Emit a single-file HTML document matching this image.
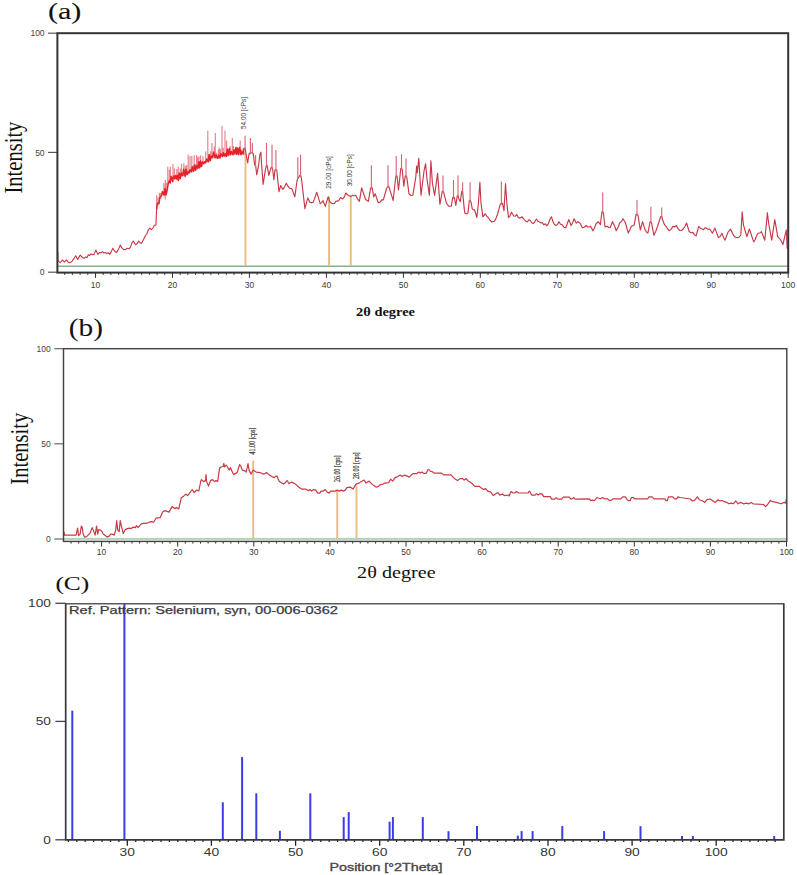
<!DOCTYPE html>
<html><head><meta charset="utf-8"><title>XRD patterns</title>
<style>html,body{margin:0;padding:0;background:#fff;}svg{display:block;}</style></head>
<body><svg width="797" height="875" viewBox="0 0 797 875">
<rect width="797" height="875" fill="#fff"/>
<text transform="translate(47.9,18.6) scale(1.06,0.84)" font-family="Liberation Serif" font-size="28.5" fill="#111" stroke="#111" stroke-width="0.12">(a)</text>
<text transform="translate(22.2,193.6) rotate(-90)" font-family="Liberation Serif" font-size="24.5" textLength="72" lengthAdjust="spacingAndGlyphs" fill="#111">Intensity</text>
<line x1="48" y1="33.2" x2="57" y2="33.2" stroke="#555" stroke-width="1.2"/>
<text transform="translate(44.6,36.3) scale(1.0,1)" font-family="Liberation Sans" font-size="8.5" fill="#444" text-anchor="end" >100</text>
<line x1="48" y1="152.4" x2="57" y2="152.4" stroke="#555" stroke-width="1.2"/>
<text transform="translate(44.6,155.5) scale(1.0,1)" font-family="Liberation Sans" font-size="8.5" fill="#444" text-anchor="end" >50</text>
<line x1="48" y1="272.2" x2="57" y2="272.2" stroke="#555" stroke-width="1.2"/>
<text transform="translate(44.6,275.3) scale(1.0,1)" font-family="Liberation Sans" font-size="8.5" fill="#444" text-anchor="end" >0</text>
<line x1="64.7" y1="272.7" x2="64.7" y2="274.9" stroke="#333" stroke-width="1"/>
<line x1="72.4" y1="272.7" x2="72.4" y2="274.9" stroke="#333" stroke-width="1"/>
<line x1="80.1" y1="272.7" x2="80.1" y2="274.9" stroke="#333" stroke-width="1"/>
<line x1="87.8" y1="272.7" x2="87.8" y2="274.9" stroke="#333" stroke-width="1"/>
<line x1="103.2" y1="272.7" x2="103.2" y2="274.9" stroke="#333" stroke-width="1"/>
<line x1="110.9" y1="272.7" x2="110.9" y2="274.9" stroke="#333" stroke-width="1"/>
<line x1="118.6" y1="272.7" x2="118.6" y2="274.9" stroke="#333" stroke-width="1"/>
<line x1="126.3" y1="272.7" x2="126.3" y2="274.9" stroke="#333" stroke-width="1"/>
<line x1="134.0" y1="272.7" x2="134.0" y2="274.9" stroke="#333" stroke-width="1"/>
<line x1="141.7" y1="272.7" x2="141.7" y2="274.9" stroke="#333" stroke-width="1"/>
<line x1="149.4" y1="272.7" x2="149.4" y2="274.9" stroke="#333" stroke-width="1"/>
<line x1="157.1" y1="272.7" x2="157.1" y2="274.9" stroke="#333" stroke-width="1"/>
<line x1="164.8" y1="272.7" x2="164.8" y2="274.9" stroke="#333" stroke-width="1"/>
<line x1="180.2" y1="272.7" x2="180.2" y2="274.9" stroke="#333" stroke-width="1"/>
<line x1="187.8" y1="272.7" x2="187.8" y2="274.9" stroke="#333" stroke-width="1"/>
<line x1="195.5" y1="272.7" x2="195.5" y2="274.9" stroke="#333" stroke-width="1"/>
<line x1="203.2" y1="272.7" x2="203.2" y2="274.9" stroke="#333" stroke-width="1"/>
<line x1="210.9" y1="272.7" x2="210.9" y2="274.9" stroke="#333" stroke-width="1"/>
<line x1="218.6" y1="272.7" x2="218.6" y2="274.9" stroke="#333" stroke-width="1"/>
<line x1="226.3" y1="272.7" x2="226.3" y2="274.9" stroke="#333" stroke-width="1"/>
<line x1="234.0" y1="272.7" x2="234.0" y2="274.9" stroke="#333" stroke-width="1"/>
<line x1="241.7" y1="272.7" x2="241.7" y2="274.9" stroke="#333" stroke-width="1"/>
<line x1="257.1" y1="272.7" x2="257.1" y2="274.9" stroke="#333" stroke-width="1"/>
<line x1="264.8" y1="272.7" x2="264.8" y2="274.9" stroke="#333" stroke-width="1"/>
<line x1="272.5" y1="272.7" x2="272.5" y2="274.9" stroke="#333" stroke-width="1"/>
<line x1="280.2" y1="272.7" x2="280.2" y2="274.9" stroke="#333" stroke-width="1"/>
<line x1="287.9" y1="272.7" x2="287.9" y2="274.9" stroke="#333" stroke-width="1"/>
<line x1="295.6" y1="272.7" x2="295.6" y2="274.9" stroke="#333" stroke-width="1"/>
<line x1="303.3" y1="272.7" x2="303.3" y2="274.9" stroke="#333" stroke-width="1"/>
<line x1="311.0" y1="272.7" x2="311.0" y2="274.9" stroke="#333" stroke-width="1"/>
<line x1="318.7" y1="272.7" x2="318.7" y2="274.9" stroke="#333" stroke-width="1"/>
<line x1="334.1" y1="272.7" x2="334.1" y2="274.9" stroke="#333" stroke-width="1"/>
<line x1="341.8" y1="272.7" x2="341.8" y2="274.9" stroke="#333" stroke-width="1"/>
<line x1="349.5" y1="272.7" x2="349.5" y2="274.9" stroke="#333" stroke-width="1"/>
<line x1="357.2" y1="272.7" x2="357.2" y2="274.9" stroke="#333" stroke-width="1"/>
<line x1="364.9" y1="272.7" x2="364.9" y2="274.9" stroke="#333" stroke-width="1"/>
<line x1="372.6" y1="272.7" x2="372.6" y2="274.9" stroke="#333" stroke-width="1"/>
<line x1="380.3" y1="272.7" x2="380.3" y2="274.9" stroke="#333" stroke-width="1"/>
<line x1="388.0" y1="272.7" x2="388.0" y2="274.9" stroke="#333" stroke-width="1"/>
<line x1="395.7" y1="272.7" x2="395.7" y2="274.9" stroke="#333" stroke-width="1"/>
<line x1="411.1" y1="272.7" x2="411.1" y2="274.9" stroke="#333" stroke-width="1"/>
<line x1="418.8" y1="272.7" x2="418.8" y2="274.9" stroke="#333" stroke-width="1"/>
<line x1="426.5" y1="272.7" x2="426.5" y2="274.9" stroke="#333" stroke-width="1"/>
<line x1="434.2" y1="272.7" x2="434.2" y2="274.9" stroke="#333" stroke-width="1"/>
<line x1="441.9" y1="272.7" x2="441.9" y2="274.9" stroke="#333" stroke-width="1"/>
<line x1="449.5" y1="272.7" x2="449.5" y2="274.9" stroke="#333" stroke-width="1"/>
<line x1="457.2" y1="272.7" x2="457.2" y2="274.9" stroke="#333" stroke-width="1"/>
<line x1="464.9" y1="272.7" x2="464.9" y2="274.9" stroke="#333" stroke-width="1"/>
<line x1="472.6" y1="272.7" x2="472.6" y2="274.9" stroke="#333" stroke-width="1"/>
<line x1="488.0" y1="272.7" x2="488.0" y2="274.9" stroke="#333" stroke-width="1"/>
<line x1="495.7" y1="272.7" x2="495.7" y2="274.9" stroke="#333" stroke-width="1"/>
<line x1="503.4" y1="272.7" x2="503.4" y2="274.9" stroke="#333" stroke-width="1"/>
<line x1="511.1" y1="272.7" x2="511.1" y2="274.9" stroke="#333" stroke-width="1"/>
<line x1="518.8" y1="272.7" x2="518.8" y2="274.9" stroke="#333" stroke-width="1"/>
<line x1="526.5" y1="272.7" x2="526.5" y2="274.9" stroke="#333" stroke-width="1"/>
<line x1="534.2" y1="272.7" x2="534.2" y2="274.9" stroke="#333" stroke-width="1"/>
<line x1="541.9" y1="272.7" x2="541.9" y2="274.9" stroke="#333" stroke-width="1"/>
<line x1="549.6" y1="272.7" x2="549.6" y2="274.9" stroke="#333" stroke-width="1"/>
<line x1="565.0" y1="272.7" x2="565.0" y2="274.9" stroke="#333" stroke-width="1"/>
<line x1="572.7" y1="272.7" x2="572.7" y2="274.9" stroke="#333" stroke-width="1"/>
<line x1="580.4" y1="272.7" x2="580.4" y2="274.9" stroke="#333" stroke-width="1"/>
<line x1="588.1" y1="272.7" x2="588.1" y2="274.9" stroke="#333" stroke-width="1"/>
<line x1="595.8" y1="272.7" x2="595.8" y2="274.9" stroke="#333" stroke-width="1"/>
<line x1="603.5" y1="272.7" x2="603.5" y2="274.9" stroke="#333" stroke-width="1"/>
<line x1="611.2" y1="272.7" x2="611.2" y2="274.9" stroke="#333" stroke-width="1"/>
<line x1="618.9" y1="272.7" x2="618.9" y2="274.9" stroke="#333" stroke-width="1"/>
<line x1="626.6" y1="272.7" x2="626.6" y2="274.9" stroke="#333" stroke-width="1"/>
<line x1="642.0" y1="272.7" x2="642.0" y2="274.9" stroke="#333" stroke-width="1"/>
<line x1="649.7" y1="272.7" x2="649.7" y2="274.9" stroke="#333" stroke-width="1"/>
<line x1="657.4" y1="272.7" x2="657.4" y2="274.9" stroke="#333" stroke-width="1"/>
<line x1="665.1" y1="272.7" x2="665.1" y2="274.9" stroke="#333" stroke-width="1"/>
<line x1="672.8" y1="272.7" x2="672.8" y2="274.9" stroke="#333" stroke-width="1"/>
<line x1="680.5" y1="272.7" x2="680.5" y2="274.9" stroke="#333" stroke-width="1"/>
<line x1="688.2" y1="272.7" x2="688.2" y2="274.9" stroke="#333" stroke-width="1"/>
<line x1="695.9" y1="272.7" x2="695.9" y2="274.9" stroke="#333" stroke-width="1"/>
<line x1="703.5" y1="272.7" x2="703.5" y2="274.9" stroke="#333" stroke-width="1"/>
<line x1="718.9" y1="272.7" x2="718.9" y2="274.9" stroke="#333" stroke-width="1"/>
<line x1="726.6" y1="272.7" x2="726.6" y2="274.9" stroke="#333" stroke-width="1"/>
<line x1="734.3" y1="272.7" x2="734.3" y2="274.9" stroke="#333" stroke-width="1"/>
<line x1="742.0" y1="272.7" x2="742.0" y2="274.9" stroke="#333" stroke-width="1"/>
<line x1="749.7" y1="272.7" x2="749.7" y2="274.9" stroke="#333" stroke-width="1"/>
<line x1="757.4" y1="272.7" x2="757.4" y2="274.9" stroke="#333" stroke-width="1"/>
<line x1="765.1" y1="272.7" x2="765.1" y2="274.9" stroke="#333" stroke-width="1"/>
<line x1="772.8" y1="272.7" x2="772.8" y2="274.9" stroke="#333" stroke-width="1"/>
<line x1="780.5" y1="272.7" x2="780.5" y2="274.9" stroke="#333" stroke-width="1"/>
<line x1="95.5" y1="272.7" x2="95.5" y2="277.9" stroke="#333" stroke-width="1"/>
<text transform="translate(95.5,288.0) scale(1.0,1)" font-family="Liberation Sans" font-size="8.5" fill="#3a3a3a" text-anchor="middle" >10</text>
<line x1="172.5" y1="272.7" x2="172.5" y2="277.9" stroke="#333" stroke-width="1"/>
<text transform="translate(172.5,288.0) scale(1.0,1)" font-family="Liberation Sans" font-size="8.5" fill="#3a3a3a" text-anchor="middle" >20</text>
<line x1="249.4" y1="272.7" x2="249.4" y2="277.9" stroke="#333" stroke-width="1"/>
<text transform="translate(249.4,288.0) scale(1.0,1)" font-family="Liberation Sans" font-size="8.5" fill="#3a3a3a" text-anchor="middle" >30</text>
<line x1="326.4" y1="272.7" x2="326.4" y2="277.9" stroke="#333" stroke-width="1"/>
<text transform="translate(326.4,288.0) scale(1.0,1)" font-family="Liberation Sans" font-size="8.5" fill="#3a3a3a" text-anchor="middle" >40</text>
<line x1="403.4" y1="272.7" x2="403.4" y2="277.9" stroke="#333" stroke-width="1"/>
<text transform="translate(403.4,288.0) scale(1.0,1)" font-family="Liberation Sans" font-size="8.5" fill="#3a3a3a" text-anchor="middle" >50</text>
<line x1="480.3" y1="272.7" x2="480.3" y2="277.9" stroke="#333" stroke-width="1"/>
<text transform="translate(480.3,288.0) scale(1.0,1)" font-family="Liberation Sans" font-size="8.5" fill="#3a3a3a" text-anchor="middle" >60</text>
<line x1="557.3" y1="272.7" x2="557.3" y2="277.9" stroke="#333" stroke-width="1"/>
<text transform="translate(557.3,288.0) scale(1.0,1)" font-family="Liberation Sans" font-size="8.5" fill="#3a3a3a" text-anchor="middle" >70</text>
<line x1="634.3" y1="272.7" x2="634.3" y2="277.9" stroke="#333" stroke-width="1"/>
<text transform="translate(634.3,288.0) scale(1.0,1)" font-family="Liberation Sans" font-size="8.5" fill="#3a3a3a" text-anchor="middle" >80</text>
<line x1="711.2" y1="272.7" x2="711.2" y2="277.9" stroke="#333" stroke-width="1"/>
<text transform="translate(711.2,288.0) scale(1.0,1)" font-family="Liberation Sans" font-size="8.5" fill="#3a3a3a" text-anchor="middle" >90</text>
<line x1="788.2" y1="272.7" x2="788.2" y2="277.9" stroke="#333" stroke-width="1"/>
<text transform="translate(788.2,288.0) scale(1.0,1)" font-family="Liberation Sans" font-size="8.5" fill="#3a3a3a" text-anchor="middle" >100</text>
<line x1="57" y1="266.3" x2="788" y2="266.3" stroke="#86b088" stroke-width="1.5"/>
<line x1="245.5" y1="153" x2="245.5" y2="265.8" stroke="#eabc82" stroke-width="1.9"/>
<line x1="329" y1="196.6" x2="329" y2="265.8" stroke="#eabc82" stroke-width="1.9"/>
<line x1="350.8" y1="195.3" x2="350.8" y2="265.8" stroke="#eabc82" stroke-width="1.9"/>
<path d="M156.6 209.5V195.2 M158.0 205.2V197.5 M159.4 202.8V192.8 M160.8 198.9V193.1 M162.1 194.5V191.7 M163.8 194.4V183.2 M165.3 199.4V179.9 M166.3 193.5V182.7 M167.8 185.3V166.4 M169.4 181.6V169.8 M170.4 183.8V166.9 M173.0 181.7V164.0 M174.5 179.0V168.5 M175.8 178.6V174.4 M176.8 179.2V168.9 M178.2 180.0V166.4 M179.4 179.9V172.5 M180.3 178.4V168.4 M181.5 176.5V163.7 M183.8 176.3V163.2 M185.3 176.1V165.8 M186.7 175.2V165.1 M188.2 174.3V154.4 M190.0 173.3V156.0 M191.8 172.5V156.0 M194.2 171.4V155.2 M195.5 170.7V164.1 M196.6 169.9V155.0 M197.7 169.3V157.2 M198.9 168.4V156.3 M200.6 167.1V155.2 M203.0 165.2V156.0 M204.7 163.6V161.1 M205.7 162.5V151.3 M207.8 161.8V130.4 M209.6 161.5V153.9 M210.5 160.9V151.2 M211.9 159.2V142.9 M213.1 157.7V154.9 M214.3 157.2V146.6 M215.3 157.8V133.1 M216.4 158.5V152.8 M218.3 158.8V149.6 M219.3 158.1V147.5 M220.4 157.5V149.2 M222.0 156.9V125.9 M223.2 156.8V147.8 M225.0 156.6V130.4 M226.6 156.5V140.6 M227.7 156.2V149.9 M228.9 155.8V149.6 M230.1 155.5V146.1 M232.3 154.8V138.0 M233.5 154.7V145.9 M234.6 154.7V149.0 M236.8 154.7V147.0 M238.3 154.7V151.7 M240.2 154.7V140.6 M241.4 154.7V149.6 M242.9 154.7V148.7 M244.0 154.7V151.9" fill="none" stroke="#e4878f" stroke-width="1.2"/>
<polyline points="156.6,209.3 157.5,203.3 159.0,203.6 159.9,197.2 161.6,195.4 162.5,191.5 164.1,195.3 165.0,188.5 166.0,195.0 166.9,191.6 168.3,183.2 169.2,180.9 170.2,182.8 171.1,176.4 172.6,181.6 173.5,175.9 174.6,178.7 175.5,175.8 176.4,179.0 177.3,175.4 178.3,180.4 179.2,173.2 180.4,178.5 181.3,173.0 182.7,175.6 183.6,169.2 185.1,176.4 186.0,169.2 187.1,174.5 188.0,171.7 189.0,172.9 189.9,169.8 191.3,171.7 192.2,166.8 193.4,171.2 194.3,165.2 195.5,170.1 196.4,165.7 197.9,168.2 198.8,161.7 199.7,167.8 200.6,161.1 201.5,166.4 202.4,162.1 203.8,163.4 204.7,161.7 205.7,162.8 206.6,159.1 208.2,161.9 209.1,154.5 210.2,160.7 211.1,156.1 212.6,157.4 213.5,152.1 215.1,157.8 216.0,155.0 217.6,158.3 218.5,155.0 219.9,158.0 220.8,153.6 222.5,156.5 223.4,152.8 224.5,155.9 225.4,153.8 226.4,156.4 227.3,149.0 228.4,155.0 229.3,148.5 230.6,154.8 231.5,151.6 232.9,154.8 233.8,149.9 235.0,153.8 235.9,147.6 236.8,154.3 237.7,148.0 238.7,154.7 239.6,147.5 241.0,154.7 241.9,151.7 243.2,153.9 244.1,148.0" fill="none" stroke="#e82028" stroke-width="1.5" stroke-linejoin="round"/>
<polyline points="57.9,252.3 57.9,260.7 60.1,262.6 62.6,260.1 64.5,262.0 66.4,259.8 68.3,262.3 70.2,262.6 71.8,261.5 73.3,259.4 75.8,255.7 77.7,259.4 80.2,255.1 82.7,257.6 84.2,258.3 85.6,257.0 87.1,257.6 88.3,254.8 89.7,255.4 91.2,253.9 92.6,254.8 94.0,254.4 95.9,250.0 97.8,254.4 99.6,252.5 101.0,252.8 102.4,251.6 103.9,253.0 105.3,252.5 106.8,253.6 108.2,252.8 109.7,254.4 111.2,251.9 112.8,248.2 114.7,251.2 116.6,252.5 118.4,249.4 120.3,245.0 121.9,247.9 123.5,249.4 125.4,249.6 127.2,248.3 129.1,248.8 130.5,247.1 131.9,242.9 133.3,241.0 135.5,244.7 137.1,243.7 138.6,241.0 140.1,242.9 141.6,243.2 143.4,239.8 145.3,235.7 146.8,234.0 148.3,230.0 149.8,228.2 151.4,229.7 152.9,228.0 154.4,225.2 155.9,225.2 156.6,209.0" fill="none" stroke="#cc3444" stroke-width="1.1" stroke-linejoin="round"/>
<polyline points="244.1,148.0 245.1,148.0 246.2,155.0 247.7,162.9 249.0,153.9 250.4,152.7 251.3,152.7 252.4,152.7 253.3,153.9 254.7,165.2 255.6,165.2 256.7,174.8 258.6,165.2 259.8,155.0 260.9,152.2 261.5,162.9 263.1,184.4 265.4,169.7 266.5,165.2 267.1,165.2 268.8,175.3 271.1,167.4 272.0,167.4 272.7,169.7 273.9,179.8 275.0,169.7 275.9,169.7 276.7,169.7 279.0,191.7 280.7,185.5 282.9,189.4 284.6,186.8 286.3,183.2 288.0,186.2 289.7,188.3 291.9,188.9 294.8,196.8 297.0,181.0 297.8,177.6 298.7,177.6 299.8,175.3 300.6,175.3 301.5,178.7 304.9,208.6 307.8,197.9 310.0,202.4 311.7,202.8 313.4,201.9 316.8,192.3 320.2,203.6 321.6,202.6 323.0,200.7 325.3,206.4 328.1,196.8 330.0,202.0 331.5,203.2 333.0,203.6 334.5,203.5 336.0,201.0 337.5,201.3 339.0,200.3 340.5,197.5 342.8,199.0 344.3,196.9 345.8,193.0 347.7,195.0 349.6,196.0 351.1,196.4 352.6,195.3 354.1,195.8 355.6,195.3 357.5,198.8 359.4,201.3 361.6,187.8 365.4,199.0 366.9,200.6 368.4,201.3 370.6,187.8 371.4,187.8 372.2,187.8 373.7,196.8 375.2,193.8 378.2,202.8 379.9,202.3 381.7,199.8 383.4,199.8 386.5,188.5 388.0,186.2 388.7,186.2 393.2,200.5 395.5,178.7 396.2,175.7 397.0,175.7 398.5,190.0 400.8,168.2 401.5,168.2 402.3,169.7 403.8,186.2 405.3,175.7 406.0,175.7 406.8,177.2 409.0,193.8 410.9,195.5 412.8,195.3 415.8,177.2 416.6,166.0 417.3,172.7 418.8,158.4 421.0,195.3 424.0,171.2 425.6,163.7 427.1,180.2 429.4,195.3 430.9,160.7 432.4,183.2 434.6,195.3 437.6,173.4 439.9,204.3 442.3,191.2 443.0,191.2 443.8,192.7 446.0,201.7 447.5,204.9 449.0,206.2 451.3,206.2 452.8,197.2 453.5,197.2 454.3,197.2 455.8,205.5 457.3,195.7 458.0,195.7 458.8,198.7 460.3,201.7 461.8,191.2 462.6,191.2 464.1,207.7 464.8,213.0 466.4,213.9 467.9,213.0 469.4,200.2 470.1,200.2 470.9,201.7 472.4,209.3 474.6,210.0 476.9,217.5 478.4,203.2 479.9,182.2 481.0,203.2 482.9,216.8 485.2,213.8 486.7,216.1 488.2,217.5 490.0,220.3 491.9,222.0 494.2,221.3 495.7,219.1 497.2,215.3 500.2,204.7 501.4,203.2 502.5,203.2 504.0,210.8 505.5,183.7 507.0,204.7 508.5,217.5 510.0,215.8 511.5,212.3 513.8,216.0 515.3,216.2 516.8,214.5 518.3,217.4 519.8,218.3 522.1,216.8 524.0,219.4 525.8,221.3 527.3,221.8 528.8,219.9 530.3,220.5 531.8,222.8 533.3,223.6 534.8,221.8 536.4,219.0 537.9,221.2 539.4,222.0 540.9,222.8 542.4,222.8 543.9,224.8 545.4,223.8 546.9,225.8 548.4,223.6 549.9,219.2 551.4,216.8 553.0,221.7 554.5,224.6 556.0,225.5 557.5,224.4 559.0,221.7 560.5,224.2 562.0,224.7 563.9,227.2 565.8,227.8 568.8,219.5 571.1,225.5 572.6,222.8 574.1,218.7 576.3,223.2 577.9,221.7 580.1,223.2 582.4,227.8 584.2,227.3 586.1,225.5 587.6,227.0 589.1,227.0 590.6,226.2 592.9,230.8 594.4,228.1 595.9,224.0 598.2,221.7 600.4,224.7 601.9,211.9 602.7,211.9 603.4,212.7 605.0,227.0 607.2,226.2 608.7,227.5 610.2,227.8 612.5,221.7 614.7,226.2 616.2,230.8 618.1,227.2 620.0,222.5 621.5,221.6 623.0,218.7 625.3,222.5 628.3,233.0 629.8,230.0 631.3,226.2 632.8,225.8 634.3,224.7 636.1,214.2 637.0,214.2 638.1,215.7 640.3,230.0 642.6,221.7 644.9,229.3 646.4,232.0 647.9,233.0 650.1,221.7 650.9,221.7 651.6,223.2 653.9,235.3 655.8,231.3 657.6,226.2 660.7,216.5 661.7,216.5 663.1,221.3 664.5,224.6 666.0,226.4 667.8,229.2 669.5,230.7 671.2,229.1 672.9,226.4 674.6,227.0 676.3,225.5 678.0,228.6 679.8,230.7 681.5,230.5 683.2,229.0 684.9,226.5 686.6,223.0 689.2,231.6 691.0,232.8 692.7,232.4 694.4,234.7 696.1,235.9 698.7,226.4 700.4,228.3 702.1,229.0 703.5,229.6 705.0,227.8 706.4,228.1 708.1,229.3 709.8,229.0 712.4,233.3 715.0,228.1 718.4,237.6 720.1,236.5 721.9,233.3 723.5,237.2 725.0,240.2 727.9,232.4 730.5,229.0 732.2,232.8 733.9,235.9 735.6,237.3 737.3,237.6 739.0,237.2 740.8,235.0 742.2,211.8 743.4,224.7 746.8,236.7 749.4,229.0 753.7,241.9 755.1,239.8 756.6,235.7 758.0,233.3 759.7,233.0 761.4,231.6 764.8,240.2 767.4,212.7 768.6,223.0 771.7,240.2 774.8,219.5 777.7,236.7 780.3,239.3 782.9,244.5 786.3,229.8 787.2,248.8" fill="none" stroke="#c83848" stroke-width="1.15" stroke-linejoin="round"/>
<path d="M245.1 149.5V135.8 M250.4 154.2V138.1 M252.4 154.2V143.1 M255.6 166.7V155.0 M266.5 166.7V143.1 M272.0 168.9V144.8 M275.9 171.2V149.9 M297.8 179.1V157.3 M300.6 176.8V154.4 M371.4 189.3V165.2 M388.0 187.7V165.2 M396.2 177.2V156.1 M401.5 169.7V154.3 M406.0 177.2V158.4 M443.0 192.7V175.4 M453.5 198.7V179.9 M458.0 197.2V175.4 M462.6 192.7V182.2 M470.1 201.7V182.2 M501.4 204.7V181.4 M602.7 213.4V192.4 M637.0 215.7V199.9 M650.9 223.2V206.7 M661.7 218.0V207.5" fill="none" stroke="#d86878" stroke-width="1.15"/>
<text transform="translate(246.1,129) rotate(-90)" font-family="Liberation Sans" font-size="6.8" textLength="32" lengthAdjust="spacingAndGlyphs" fill="#333">54.00 [cPs]</text>
<text transform="translate(330.7,188.8) rotate(-90)" font-family="Liberation Sans" font-size="6.8" textLength="32.5" lengthAdjust="spacingAndGlyphs" fill="#333">29.00 [cPs]</text>
<text transform="translate(352.2,186.2) rotate(-90)" font-family="Liberation Sans" font-size="6.8" textLength="32" lengthAdjust="spacingAndGlyphs" fill="#333">30.00 [cPs]</text>
<rect x="57.4" y="33.2" width="730.8" height="239.4" fill="none" stroke="#333" stroke-width="2"/>
<text transform="translate(356.1,316.1) scale(1.03,0.85)" font-family="Liberation Serif" font-size="14" font-weight="bold" fill="#111">2θ degree</text>
<text transform="translate(68.7,336.0) scale(1.03,0.85)" font-family="Liberation Serif" font-size="28.5" fill="#111">(b)</text>
<text transform="translate(27.8,484.7) rotate(-90)" font-family="Liberation Serif" font-size="24.5" textLength="72" lengthAdjust="spacingAndGlyphs" fill="#111">Intensity</text>
<line x1="54.3" y1="348.7" x2="63.5" y2="348.7" stroke="#666" stroke-width="1.2"/>
<text transform="translate(50.8,351.8) scale(1.0,1)" font-family="Liberation Sans" font-size="8.5" fill="#444" text-anchor="end" >100</text>
<line x1="54.3" y1="443.8" x2="63.5" y2="443.8" stroke="#666" stroke-width="1.2"/>
<text transform="translate(50.8,446.9) scale(1.0,1)" font-family="Liberation Sans" font-size="8.5" fill="#444" text-anchor="end" >50</text>
<line x1="54.3" y1="539" x2="63.5" y2="539" stroke="#666" stroke-width="1.2"/>
<text transform="translate(50.8,542.1) scale(1.0,1)" font-family="Liberation Sans" font-size="8.5" fill="#444" text-anchor="end" >0</text>
<line x1="71.1" y1="541.4" x2="71.1" y2="543.6" stroke="#333" stroke-width="1"/>
<line x1="78.7" y1="541.4" x2="78.7" y2="543.6" stroke="#333" stroke-width="1"/>
<line x1="86.3" y1="541.4" x2="86.3" y2="543.6" stroke="#333" stroke-width="1"/>
<line x1="93.9" y1="541.4" x2="93.9" y2="543.6" stroke="#333" stroke-width="1"/>
<line x1="109.2" y1="541.4" x2="109.2" y2="543.6" stroke="#333" stroke-width="1"/>
<line x1="116.8" y1="541.4" x2="116.8" y2="543.6" stroke="#333" stroke-width="1"/>
<line x1="124.4" y1="541.4" x2="124.4" y2="543.6" stroke="#333" stroke-width="1"/>
<line x1="132.0" y1="541.4" x2="132.0" y2="543.6" stroke="#333" stroke-width="1"/>
<line x1="139.6" y1="541.4" x2="139.6" y2="543.6" stroke="#333" stroke-width="1"/>
<line x1="147.2" y1="541.4" x2="147.2" y2="543.6" stroke="#333" stroke-width="1"/>
<line x1="154.8" y1="541.4" x2="154.8" y2="543.6" stroke="#333" stroke-width="1"/>
<line x1="162.4" y1="541.4" x2="162.4" y2="543.6" stroke="#333" stroke-width="1"/>
<line x1="170.1" y1="541.4" x2="170.1" y2="543.6" stroke="#333" stroke-width="1"/>
<line x1="185.3" y1="541.4" x2="185.3" y2="543.6" stroke="#333" stroke-width="1"/>
<line x1="192.9" y1="541.4" x2="192.9" y2="543.6" stroke="#333" stroke-width="1"/>
<line x1="200.5" y1="541.4" x2="200.5" y2="543.6" stroke="#333" stroke-width="1"/>
<line x1="208.1" y1="541.4" x2="208.1" y2="543.6" stroke="#333" stroke-width="1"/>
<line x1="215.7" y1="541.4" x2="215.7" y2="543.6" stroke="#333" stroke-width="1"/>
<line x1="223.3" y1="541.4" x2="223.3" y2="543.6" stroke="#333" stroke-width="1"/>
<line x1="230.9" y1="541.4" x2="230.9" y2="543.6" stroke="#333" stroke-width="1"/>
<line x1="238.6" y1="541.4" x2="238.6" y2="543.6" stroke="#333" stroke-width="1"/>
<line x1="246.2" y1="541.4" x2="246.2" y2="543.6" stroke="#333" stroke-width="1"/>
<line x1="261.4" y1="541.4" x2="261.4" y2="543.6" stroke="#333" stroke-width="1"/>
<line x1="269.0" y1="541.4" x2="269.0" y2="543.6" stroke="#333" stroke-width="1"/>
<line x1="276.6" y1="541.4" x2="276.6" y2="543.6" stroke="#333" stroke-width="1"/>
<line x1="284.2" y1="541.4" x2="284.2" y2="543.6" stroke="#333" stroke-width="1"/>
<line x1="291.8" y1="541.4" x2="291.8" y2="543.6" stroke="#333" stroke-width="1"/>
<line x1="299.4" y1="541.4" x2="299.4" y2="543.6" stroke="#333" stroke-width="1"/>
<line x1="307.1" y1="541.4" x2="307.1" y2="543.6" stroke="#333" stroke-width="1"/>
<line x1="314.7" y1="541.4" x2="314.7" y2="543.6" stroke="#333" stroke-width="1"/>
<line x1="322.3" y1="541.4" x2="322.3" y2="543.6" stroke="#333" stroke-width="1"/>
<line x1="337.5" y1="541.4" x2="337.5" y2="543.6" stroke="#333" stroke-width="1"/>
<line x1="345.1" y1="541.4" x2="345.1" y2="543.6" stroke="#333" stroke-width="1"/>
<line x1="352.7" y1="541.4" x2="352.7" y2="543.6" stroke="#333" stroke-width="1"/>
<line x1="360.3" y1="541.4" x2="360.3" y2="543.6" stroke="#333" stroke-width="1"/>
<line x1="367.9" y1="541.4" x2="367.9" y2="543.6" stroke="#333" stroke-width="1"/>
<line x1="375.6" y1="541.4" x2="375.6" y2="543.6" stroke="#333" stroke-width="1"/>
<line x1="383.2" y1="541.4" x2="383.2" y2="543.6" stroke="#333" stroke-width="1"/>
<line x1="390.8" y1="541.4" x2="390.8" y2="543.6" stroke="#333" stroke-width="1"/>
<line x1="398.4" y1="541.4" x2="398.4" y2="543.6" stroke="#333" stroke-width="1"/>
<line x1="413.6" y1="541.4" x2="413.6" y2="543.6" stroke="#333" stroke-width="1"/>
<line x1="421.2" y1="541.4" x2="421.2" y2="543.6" stroke="#333" stroke-width="1"/>
<line x1="428.8" y1="541.4" x2="428.8" y2="543.6" stroke="#333" stroke-width="1"/>
<line x1="436.4" y1="541.4" x2="436.4" y2="543.6" stroke="#333" stroke-width="1"/>
<line x1="444.1" y1="541.4" x2="444.1" y2="543.6" stroke="#333" stroke-width="1"/>
<line x1="451.7" y1="541.4" x2="451.7" y2="543.6" stroke="#333" stroke-width="1"/>
<line x1="459.3" y1="541.4" x2="459.3" y2="543.6" stroke="#333" stroke-width="1"/>
<line x1="466.9" y1="541.4" x2="466.9" y2="543.6" stroke="#333" stroke-width="1"/>
<line x1="474.5" y1="541.4" x2="474.5" y2="543.6" stroke="#333" stroke-width="1"/>
<line x1="489.7" y1="541.4" x2="489.7" y2="543.6" stroke="#333" stroke-width="1"/>
<line x1="497.3" y1="541.4" x2="497.3" y2="543.6" stroke="#333" stroke-width="1"/>
<line x1="504.9" y1="541.4" x2="504.9" y2="543.6" stroke="#333" stroke-width="1"/>
<line x1="512.5" y1="541.4" x2="512.5" y2="543.6" stroke="#333" stroke-width="1"/>
<line x1="520.2" y1="541.4" x2="520.2" y2="543.6" stroke="#333" stroke-width="1"/>
<line x1="527.8" y1="541.4" x2="527.8" y2="543.6" stroke="#333" stroke-width="1"/>
<line x1="535.4" y1="541.4" x2="535.4" y2="543.6" stroke="#333" stroke-width="1"/>
<line x1="543.0" y1="541.4" x2="543.0" y2="543.6" stroke="#333" stroke-width="1"/>
<line x1="550.6" y1="541.4" x2="550.6" y2="543.6" stroke="#333" stroke-width="1"/>
<line x1="565.8" y1="541.4" x2="565.8" y2="543.6" stroke="#333" stroke-width="1"/>
<line x1="573.4" y1="541.4" x2="573.4" y2="543.6" stroke="#333" stroke-width="1"/>
<line x1="581.0" y1="541.4" x2="581.0" y2="543.6" stroke="#333" stroke-width="1"/>
<line x1="588.7" y1="541.4" x2="588.7" y2="543.6" stroke="#333" stroke-width="1"/>
<line x1="596.3" y1="541.4" x2="596.3" y2="543.6" stroke="#333" stroke-width="1"/>
<line x1="603.9" y1="541.4" x2="603.9" y2="543.6" stroke="#333" stroke-width="1"/>
<line x1="611.5" y1="541.4" x2="611.5" y2="543.6" stroke="#333" stroke-width="1"/>
<line x1="619.1" y1="541.4" x2="619.1" y2="543.6" stroke="#333" stroke-width="1"/>
<line x1="626.7" y1="541.4" x2="626.7" y2="543.6" stroke="#333" stroke-width="1"/>
<line x1="641.9" y1="541.4" x2="641.9" y2="543.6" stroke="#333" stroke-width="1"/>
<line x1="649.5" y1="541.4" x2="649.5" y2="543.6" stroke="#333" stroke-width="1"/>
<line x1="657.2" y1="541.4" x2="657.2" y2="543.6" stroke="#333" stroke-width="1"/>
<line x1="664.8" y1="541.4" x2="664.8" y2="543.6" stroke="#333" stroke-width="1"/>
<line x1="672.4" y1="541.4" x2="672.4" y2="543.6" stroke="#333" stroke-width="1"/>
<line x1="680.0" y1="541.4" x2="680.0" y2="543.6" stroke="#333" stroke-width="1"/>
<line x1="687.6" y1="541.4" x2="687.6" y2="543.6" stroke="#333" stroke-width="1"/>
<line x1="695.2" y1="541.4" x2="695.2" y2="543.6" stroke="#333" stroke-width="1"/>
<line x1="702.8" y1="541.4" x2="702.8" y2="543.6" stroke="#333" stroke-width="1"/>
<line x1="718.0" y1="541.4" x2="718.0" y2="543.6" stroke="#333" stroke-width="1"/>
<line x1="725.7" y1="541.4" x2="725.7" y2="543.6" stroke="#333" stroke-width="1"/>
<line x1="733.3" y1="541.4" x2="733.3" y2="543.6" stroke="#333" stroke-width="1"/>
<line x1="740.9" y1="541.4" x2="740.9" y2="543.6" stroke="#333" stroke-width="1"/>
<line x1="748.5" y1="541.4" x2="748.5" y2="543.6" stroke="#333" stroke-width="1"/>
<line x1="756.1" y1="541.4" x2="756.1" y2="543.6" stroke="#333" stroke-width="1"/>
<line x1="763.7" y1="541.4" x2="763.7" y2="543.6" stroke="#333" stroke-width="1"/>
<line x1="771.3" y1="541.4" x2="771.3" y2="543.6" stroke="#333" stroke-width="1"/>
<line x1="778.9" y1="541.4" x2="778.9" y2="543.6" stroke="#333" stroke-width="1"/>
<line x1="101.6" y1="541.4" x2="101.6" y2="546.6" stroke="#333" stroke-width="1"/>
<text transform="translate(101.6,554.6) scale(1.0,1)" font-family="Liberation Sans" font-size="8.5" fill="#3a3a3a" text-anchor="middle" >10</text>
<line x1="177.7" y1="541.4" x2="177.7" y2="546.6" stroke="#333" stroke-width="1"/>
<text transform="translate(177.7,554.6) scale(1.0,1)" font-family="Liberation Sans" font-size="8.5" fill="#3a3a3a" text-anchor="middle" >20</text>
<line x1="253.8" y1="541.4" x2="253.8" y2="546.6" stroke="#333" stroke-width="1"/>
<text transform="translate(253.8,554.6) scale(1.0,1)" font-family="Liberation Sans" font-size="8.5" fill="#3a3a3a" text-anchor="middle" >30</text>
<line x1="329.9" y1="541.4" x2="329.9" y2="546.6" stroke="#333" stroke-width="1"/>
<text transform="translate(329.9,554.6) scale(1.0,1)" font-family="Liberation Sans" font-size="8.5" fill="#3a3a3a" text-anchor="middle" >40</text>
<line x1="406.0" y1="541.4" x2="406.0" y2="546.6" stroke="#333" stroke-width="1"/>
<text transform="translate(406.0,554.6) scale(1.0,1)" font-family="Liberation Sans" font-size="8.5" fill="#3a3a3a" text-anchor="middle" >50</text>
<line x1="482.1" y1="541.4" x2="482.1" y2="546.6" stroke="#333" stroke-width="1"/>
<text transform="translate(482.1,554.6) scale(1.0,1)" font-family="Liberation Sans" font-size="8.5" fill="#3a3a3a" text-anchor="middle" >60</text>
<line x1="558.2" y1="541.4" x2="558.2" y2="546.6" stroke="#333" stroke-width="1"/>
<text transform="translate(558.2,554.6) scale(1.0,1)" font-family="Liberation Sans" font-size="8.5" fill="#3a3a3a" text-anchor="middle" >70</text>
<line x1="634.3" y1="541.4" x2="634.3" y2="546.6" stroke="#333" stroke-width="1"/>
<text transform="translate(634.3,554.6) scale(1.0,1)" font-family="Liberation Sans" font-size="8.5" fill="#3a3a3a" text-anchor="middle" >80</text>
<line x1="710.4" y1="541.4" x2="710.4" y2="546.6" stroke="#333" stroke-width="1"/>
<text transform="translate(710.4,554.6) scale(1.0,1)" font-family="Liberation Sans" font-size="8.5" fill="#3a3a3a" text-anchor="middle" >90</text>
<line x1="786.5" y1="541.4" x2="786.5" y2="546.6" stroke="#333" stroke-width="1"/>
<text transform="translate(786.5,554.6) scale(1.0,1)" font-family="Liberation Sans" font-size="8.5" fill="#3a3a3a" text-anchor="middle" >100</text>
<line x1="63.5" y1="538.8" x2="786.8" y2="538.8" stroke="#a8d2ae" stroke-width="1.7"/>
<line x1="253.2" y1="460.6" x2="253.2" y2="538" stroke="#eabc82" stroke-width="1.9"/>
<line x1="337.2" y1="490.2" x2="337.2" y2="538" stroke="#eabc82" stroke-width="1.9"/>
<line x1="356.5" y1="485.7" x2="356.5" y2="538" stroke="#eabc82" stroke-width="1.9"/>
<polyline points="64.0,531.6 64.5,535.1 76.1,535.1 77.6,528.1 78.6,535.6 80.1,534.1 81.3,526.1 82.3,527.6 83.1,534.1 84.6,537.1 86.6,536.6 88.6,534.6 90.1,533.1 92.1,527.6 93.6,531.1 95.1,535.1 96.6,526.1 97.7,534.1 98.7,529.6 100.2,530.1 101.7,531.1 103.2,534.1 105.2,535.6 107.2,537.1 109.2,536.1 110.7,534.1 112.2,534.1 114.2,535.1 115.7,530.1 116.7,520.5 117.7,530.1 119.2,531.6 120.2,520.5 121.4,526.1 123.3,533.6 125.3,529.6 127.3,528.6 129.3,528.1 131.3,528.6 133.3,527.1 135.3,527.6 136.5,525.7 138.0,527.7 141.5,523.7 147.0,523.2 149.1,522.2 151.6,521.7 153.6,522.2 156.1,518.2 160.1,517.7 162.6,512.1 165.1,510.6 169.1,512.1 172.1,506.6 174.7,508.6 176.7,507.6 178.7,509.1 181.2,498.1 183.2,496.6 185.7,494.1 187.7,495.6 192.2,489.5 194.2,492.6 196.7,490.0 198.8,491.0 200.8,481.0 201.5,479.6 203.5,481.6 205.5,480.6 206.0,474.6 206.5,481.1 208.5,486.1 210.5,480.6 212.6,479.6 214.6,481.6 216.1,480.6 217.6,481.6 219.6,468.1 221.1,467.0 223.1,466.5 223.8,463.5 224.6,467.0 226.1,465.0 227.6,467.0 229.1,470.1 230.6,467.6 231.6,470.6 233.6,474.6 235.1,473.6 237.1,472.6 239.7,464.5 241.2,467.0 242.2,470.1 244.2,470.6 246.2,472.1 248.0,463.5 249.2,470.6 251.2,474.1 253.2,470.1 256.2,472.1 260.2,472.6 262.8,474.1 264.8,473.6 266.8,472.6 269.3,475.1 271.8,476.6 274.3,477.6 276.3,476.1 277.0,476.0 279.0,481.0 281.0,482.6 283.5,484.1 285.0,483.1 287.0,480.5 289.1,483.6 291.6,482.0 293.6,483.1 296.1,484.6 298.6,487.1 301.6,489.1 305.6,489.1 308.1,490.6 310.1,489.6 311.6,491.1 313.7,489.6 315.7,490.1 317.7,493.1 319.7,493.1 321.2,491.1 323.2,491.1 325.2,489.6 327.2,492.1 329.2,493.1 330.7,491.1 335.2,491.1 337.2,490.1 339.3,491.1 341.3,490.1 343.3,491.1 345.3,490.1 346.8,487.6 350.3,487.1 353.0,489.1 356.0,484.1 359.0,483.1 361.5,481.6 364.1,480.1 366.1,483.1 369.1,481.1 371.1,483.1 373.1,485.1 376.1,487.1 378.1,486.6 380.1,484.6 383.1,484.1 384.6,483.1 388.7,482.6 390.7,479.1 392.7,481.1 395.2,477.6 397.7,476.6 400.2,475.1 402.2,476.6 404.7,475.1 407.2,476.1 409.2,477.1 411.2,475.1 413.3,473.6 416.8,473.6 418.8,472.1 420.3,473.1 421.8,472.1 423.8,473.6 426.5,473.1 428.0,469.5 429.5,470.0 430.5,471.5 432.0,471.5 434.0,473.1 441.6,473.1 443.6,474.9 451.1,474.9 453.1,477.1 455.1,479.1 457.6,480.6 460.1,478.6 462.7,478.6 464.2,480.1 466.2,478.6 468.2,481.1 470.7,482.6 472.7,484.1 474.7,486.3 479.2,486.3 481.2,488.1 483.7,489.6 485.7,488.6 487.8,491.1 490.8,492.1 493.3,495.6 495.3,494.1 497.8,492.6 499.8,495.1 502.3,494.1 504.3,495.6 508.9,495.0 509.0,496.1 511.0,491.5 513.0,493.0 514.6,493.0 516.6,491.5 518.6,493.0 528.1,493.0 529.3,491.2 530.1,492.0 531.6,495.1 535.1,495.1 536.6,493.6 538.2,495.1 540.2,493.6 542.2,494.1 543.7,496.6 550.2,496.6 551.7,499.1 554.7,499.1 556.2,497.6 557.7,499.1 561.7,499.1 563.3,497.1 569.3,497.1 570.8,499.1 572.3,498.6 573.8,497.6 575.3,499.1 589.4,498.8 590.7,500.7 592.5,500.1 594.4,500.7 596.9,497.5 598.8,498.2 600.7,498.8 602.6,497.5 604.5,498.8 607.6,498.8 609.5,500.7 611.4,500.1 613.2,498.8 620.8,498.8 622.7,496.9 625.2,496.9 627.1,499.4 628.3,500.7 630.2,500.7 631.4,497.5 633.3,497.5 634.6,498.8 647.8,498.8 649.0,496.9 652.1,496.9 654.0,498.8 664.7,498.8 665.9,500.7 667.2,500.7 668.5,496.9 672.8,496.9 674.7,498.8 676.6,498.8 677.9,496.9 680.0,497.5 690.4,499.0 692.4,501.0 694.5,500.4 697.3,496.9 699.3,499.7 702.8,501.0 704.8,502.4 706.9,499.7 709.7,499.0 712.4,500.4 715.2,502.4 718.0,499.7 720.0,501.0 722.1,500.4 724.2,501.7 726.9,502.4 729.0,503.8 731.1,503.1 733.1,503.8 735.9,501.0 738.0,503.8 740.7,502.4 743.5,503.8 746.3,503.1 749.0,503.8 751.1,502.4 753.2,503.8 763.5,504.5 765.6,506.6 767.6,504.5 770.4,500.4 772.5,501.7 776.6,502.4 780.8,503.8 784.2,502.4 785.6,503.1 786.3,499.0" fill="none" stroke="#c83a46" stroke-width="1.2" stroke-linejoin="round"/>
<text transform="translate(255.2,454.4) rotate(-90)" font-family="Liberation Serif" font-size="7.6" textLength="26.6" lengthAdjust="spacingAndGlyphs" fill="#222" stroke="#222" stroke-width="0.15">41.00 [cps]</text>
<text transform="translate(340.3,482) rotate(-90)" font-family="Liberation Serif" font-size="7.6" textLength="26.6" lengthAdjust="spacingAndGlyphs" fill="#222" stroke="#222" stroke-width="0.15">26.00 [cps]</text>
<text transform="translate(358.7,478.9) rotate(-90)" font-family="Liberation Serif" font-size="7.6" textLength="26.6" lengthAdjust="spacingAndGlyphs" fill="#222" stroke="#222" stroke-width="0.15">28.00 [cps]</text>
<rect x="63.5" y="348.7" width="723.3" height="192.7" fill="none" stroke="#444" stroke-width="1.45"/>
<text transform="translate(357.1,577.5) scale(1.045,0.85)" font-family="Liberation Serif" font-size="19.3" fill="#111">2θ degree</text>
<text transform="translate(55.4,590.1) scale(1.06,0.82)" font-family="Liberation Serif" font-size="24" fill="#111" stroke="#111" stroke-width="0.1">(C)</text>
<line x1="55.4" y1="603.3" x2="65.6" y2="603.3" stroke="#444" stroke-width="1.3"/>
<text transform="translate(50.8,607.3) scale(1.3,1)" font-family="Liberation Sans" font-size="10.5" fill="#333" text-anchor="end" >100</text>
<line x1="55.4" y1="721.4" x2="65.6" y2="721.4" stroke="#444" stroke-width="1.3"/>
<text transform="translate(50.8,725.4) scale(1.3,1)" font-family="Liberation Sans" font-size="10.5" fill="#333" text-anchor="end" >50</text>
<line x1="55.4" y1="839.8" x2="65.6" y2="839.8" stroke="#444" stroke-width="1.3"/>
<text transform="translate(50.8,843.8) scale(1.3,1)" font-family="Liberation Sans" font-size="10.5" fill="#333" text-anchor="end" >0</text>
<line x1="68.4" y1="839.8" x2="68.4" y2="842.0" stroke="#222" stroke-width="1.3"/>
<line x1="76.8" y1="839.8" x2="76.8" y2="842.0" stroke="#222" stroke-width="1.3"/>
<line x1="85.2" y1="839.8" x2="85.2" y2="842.0" stroke="#222" stroke-width="1.3"/>
<line x1="93.6" y1="839.8" x2="93.6" y2="842.0" stroke="#222" stroke-width="1.3"/>
<line x1="102.1" y1="839.8" x2="102.1" y2="842.0" stroke="#222" stroke-width="1.3"/>
<line x1="110.5" y1="839.8" x2="110.5" y2="842.0" stroke="#222" stroke-width="1.3"/>
<line x1="118.9" y1="839.8" x2="118.9" y2="842.0" stroke="#222" stroke-width="1.3"/>
<line x1="135.7" y1="839.8" x2="135.7" y2="842.0" stroke="#222" stroke-width="1.3"/>
<line x1="144.1" y1="839.8" x2="144.1" y2="842.0" stroke="#222" stroke-width="1.3"/>
<line x1="152.5" y1="839.8" x2="152.5" y2="842.0" stroke="#222" stroke-width="1.3"/>
<line x1="161.0" y1="839.8" x2="161.0" y2="842.0" stroke="#222" stroke-width="1.3"/>
<line x1="169.4" y1="839.8" x2="169.4" y2="842.0" stroke="#222" stroke-width="1.3"/>
<line x1="177.8" y1="839.8" x2="177.8" y2="842.0" stroke="#222" stroke-width="1.3"/>
<line x1="186.2" y1="839.8" x2="186.2" y2="842.0" stroke="#222" stroke-width="1.3"/>
<line x1="194.6" y1="839.8" x2="194.6" y2="842.0" stroke="#222" stroke-width="1.3"/>
<line x1="203.0" y1="839.8" x2="203.0" y2="842.0" stroke="#222" stroke-width="1.3"/>
<line x1="219.8" y1="839.8" x2="219.8" y2="842.0" stroke="#222" stroke-width="1.3"/>
<line x1="228.3" y1="839.8" x2="228.3" y2="842.0" stroke="#222" stroke-width="1.3"/>
<line x1="236.7" y1="839.8" x2="236.7" y2="842.0" stroke="#222" stroke-width="1.3"/>
<line x1="245.1" y1="839.8" x2="245.1" y2="842.0" stroke="#222" stroke-width="1.3"/>
<line x1="253.5" y1="839.8" x2="253.5" y2="842.0" stroke="#222" stroke-width="1.3"/>
<line x1="261.9" y1="839.8" x2="261.9" y2="842.0" stroke="#222" stroke-width="1.3"/>
<line x1="270.3" y1="839.8" x2="270.3" y2="842.0" stroke="#222" stroke-width="1.3"/>
<line x1="278.7" y1="839.8" x2="278.7" y2="842.0" stroke="#222" stroke-width="1.3"/>
<line x1="287.1" y1="839.8" x2="287.1" y2="842.0" stroke="#222" stroke-width="1.3"/>
<line x1="304.0" y1="839.8" x2="304.0" y2="842.0" stroke="#222" stroke-width="1.3"/>
<line x1="312.4" y1="839.8" x2="312.4" y2="842.0" stroke="#222" stroke-width="1.3"/>
<line x1="320.8" y1="839.8" x2="320.8" y2="842.0" stroke="#222" stroke-width="1.3"/>
<line x1="329.2" y1="839.8" x2="329.2" y2="842.0" stroke="#222" stroke-width="1.3"/>
<line x1="337.6" y1="839.8" x2="337.6" y2="842.0" stroke="#222" stroke-width="1.3"/>
<line x1="346.0" y1="839.8" x2="346.0" y2="842.0" stroke="#222" stroke-width="1.3"/>
<line x1="354.5" y1="839.8" x2="354.5" y2="842.0" stroke="#222" stroke-width="1.3"/>
<line x1="362.9" y1="839.8" x2="362.9" y2="842.0" stroke="#222" stroke-width="1.3"/>
<line x1="371.3" y1="839.8" x2="371.3" y2="842.0" stroke="#222" stroke-width="1.3"/>
<line x1="388.1" y1="839.8" x2="388.1" y2="842.0" stroke="#222" stroke-width="1.3"/>
<line x1="396.5" y1="839.8" x2="396.5" y2="842.0" stroke="#222" stroke-width="1.3"/>
<line x1="404.9" y1="839.8" x2="404.9" y2="842.0" stroke="#222" stroke-width="1.3"/>
<line x1="413.3" y1="839.8" x2="413.3" y2="842.0" stroke="#222" stroke-width="1.3"/>
<line x1="421.8" y1="839.8" x2="421.8" y2="842.0" stroke="#222" stroke-width="1.3"/>
<line x1="430.2" y1="839.8" x2="430.2" y2="842.0" stroke="#222" stroke-width="1.3"/>
<line x1="438.6" y1="839.8" x2="438.6" y2="842.0" stroke="#222" stroke-width="1.3"/>
<line x1="447.0" y1="839.8" x2="447.0" y2="842.0" stroke="#222" stroke-width="1.3"/>
<line x1="455.4" y1="839.8" x2="455.4" y2="842.0" stroke="#222" stroke-width="1.3"/>
<line x1="472.2" y1="839.8" x2="472.2" y2="842.0" stroke="#222" stroke-width="1.3"/>
<line x1="480.6" y1="839.8" x2="480.6" y2="842.0" stroke="#222" stroke-width="1.3"/>
<line x1="489.1" y1="839.8" x2="489.1" y2="842.0" stroke="#222" stroke-width="1.3"/>
<line x1="497.5" y1="839.8" x2="497.5" y2="842.0" stroke="#222" stroke-width="1.3"/>
<line x1="505.9" y1="839.8" x2="505.9" y2="842.0" stroke="#222" stroke-width="1.3"/>
<line x1="514.3" y1="839.8" x2="514.3" y2="842.0" stroke="#222" stroke-width="1.3"/>
<line x1="522.7" y1="839.8" x2="522.7" y2="842.0" stroke="#222" stroke-width="1.3"/>
<line x1="531.1" y1="839.8" x2="531.1" y2="842.0" stroke="#222" stroke-width="1.3"/>
<line x1="539.5" y1="839.8" x2="539.5" y2="842.0" stroke="#222" stroke-width="1.3"/>
<line x1="556.4" y1="839.8" x2="556.4" y2="842.0" stroke="#222" stroke-width="1.3"/>
<line x1="564.8" y1="839.8" x2="564.8" y2="842.0" stroke="#222" stroke-width="1.3"/>
<line x1="573.2" y1="839.8" x2="573.2" y2="842.0" stroke="#222" stroke-width="1.3"/>
<line x1="581.6" y1="839.8" x2="581.6" y2="842.0" stroke="#222" stroke-width="1.3"/>
<line x1="590.0" y1="839.8" x2="590.0" y2="842.0" stroke="#222" stroke-width="1.3"/>
<line x1="598.4" y1="839.8" x2="598.4" y2="842.0" stroke="#222" stroke-width="1.3"/>
<line x1="606.8" y1="839.8" x2="606.8" y2="842.0" stroke="#222" stroke-width="1.3"/>
<line x1="615.3" y1="839.8" x2="615.3" y2="842.0" stroke="#222" stroke-width="1.3"/>
<line x1="623.7" y1="839.8" x2="623.7" y2="842.0" stroke="#222" stroke-width="1.3"/>
<line x1="640.5" y1="839.8" x2="640.5" y2="842.0" stroke="#222" stroke-width="1.3"/>
<line x1="648.9" y1="839.8" x2="648.9" y2="842.0" stroke="#222" stroke-width="1.3"/>
<line x1="657.3" y1="839.8" x2="657.3" y2="842.0" stroke="#222" stroke-width="1.3"/>
<line x1="665.7" y1="839.8" x2="665.7" y2="842.0" stroke="#222" stroke-width="1.3"/>
<line x1="674.1" y1="839.8" x2="674.1" y2="842.0" stroke="#222" stroke-width="1.3"/>
<line x1="682.6" y1="839.8" x2="682.6" y2="842.0" stroke="#222" stroke-width="1.3"/>
<line x1="691.0" y1="839.8" x2="691.0" y2="842.0" stroke="#222" stroke-width="1.3"/>
<line x1="699.4" y1="839.8" x2="699.4" y2="842.0" stroke="#222" stroke-width="1.3"/>
<line x1="707.8" y1="839.8" x2="707.8" y2="842.0" stroke="#222" stroke-width="1.3"/>
<line x1="724.6" y1="839.8" x2="724.6" y2="842.0" stroke="#222" stroke-width="1.3"/>
<line x1="733.0" y1="839.8" x2="733.0" y2="842.0" stroke="#222" stroke-width="1.3"/>
<line x1="741.4" y1="839.8" x2="741.4" y2="842.0" stroke="#222" stroke-width="1.3"/>
<line x1="749.9" y1="839.8" x2="749.9" y2="842.0" stroke="#222" stroke-width="1.3"/>
<line x1="758.3" y1="839.8" x2="758.3" y2="842.0" stroke="#222" stroke-width="1.3"/>
<line x1="766.7" y1="839.8" x2="766.7" y2="842.0" stroke="#222" stroke-width="1.3"/>
<line x1="775.1" y1="839.8" x2="775.1" y2="842.0" stroke="#222" stroke-width="1.3"/>
<line x1="127.3" y1="839.8" x2="127.3" y2="845.8" stroke="#222" stroke-width="1.3"/>
<text transform="translate(127.3,855.9) scale(1.38,1)" font-family="Liberation Sans" font-size="10" fill="#333" text-anchor="middle" >30</text>
<line x1="211.4" y1="839.8" x2="211.4" y2="845.8" stroke="#222" stroke-width="1.3"/>
<text transform="translate(211.4,855.9) scale(1.38,1)" font-family="Liberation Sans" font-size="10" fill="#333" text-anchor="middle" >40</text>
<line x1="295.6" y1="839.8" x2="295.6" y2="845.8" stroke="#222" stroke-width="1.3"/>
<text transform="translate(295.6,855.9) scale(1.38,1)" font-family="Liberation Sans" font-size="10" fill="#333" text-anchor="middle" >50</text>
<line x1="379.7" y1="839.8" x2="379.7" y2="845.8" stroke="#222" stroke-width="1.3"/>
<text transform="translate(379.7,855.9) scale(1.38,1)" font-family="Liberation Sans" font-size="10" fill="#333" text-anchor="middle" >60</text>
<line x1="463.8" y1="839.8" x2="463.8" y2="845.8" stroke="#222" stroke-width="1.3"/>
<text transform="translate(463.8,855.9) scale(1.38,1)" font-family="Liberation Sans" font-size="10" fill="#333" text-anchor="middle" >70</text>
<line x1="548.0" y1="839.8" x2="548.0" y2="845.8" stroke="#222" stroke-width="1.3"/>
<text transform="translate(548.0,855.9) scale(1.38,1)" font-family="Liberation Sans" font-size="10" fill="#333" text-anchor="middle" >80</text>
<line x1="632.1" y1="839.8" x2="632.1" y2="845.8" stroke="#222" stroke-width="1.3"/>
<text transform="translate(632.1,855.9) scale(1.38,1)" font-family="Liberation Sans" font-size="10" fill="#333" text-anchor="middle" >90</text>
<line x1="716.2" y1="839.8" x2="716.2" y2="845.8" stroke="#222" stroke-width="1.3"/>
<text transform="translate(716.2,855.9) scale(1.38,1)" font-family="Liberation Sans" font-size="10" fill="#333" text-anchor="middle" >100</text>
<line x1="72.3" y1="710.7" x2="72.3" y2="839.8" stroke="#3b3be8" stroke-width="2"/>
<line x1="124.4" y1="603.5" x2="124.4" y2="839.8" stroke="#3b3be8" stroke-width="2"/>
<line x1="222.8" y1="802.3" x2="222.8" y2="839.8" stroke="#3b3be8" stroke-width="2"/>
<line x1="242.1" y1="757.1" x2="242.1" y2="839.8" stroke="#3b3be8" stroke-width="2"/>
<line x1="256.3" y1="793.3" x2="256.3" y2="839.8" stroke="#3b3be8" stroke-width="2"/>
<line x1="279.9" y1="830.8" x2="279.9" y2="839.8" stroke="#3b3be8" stroke-width="2"/>
<line x1="310.3" y1="793.3" x2="310.3" y2="839.8" stroke="#3b3be8" stroke-width="2"/>
<line x1="343.7" y1="817.1" x2="343.7" y2="839.8" stroke="#3b3be8" stroke-width="2"/>
<line x1="348.7" y1="812.1" x2="348.7" y2="839.8" stroke="#3b3be8" stroke-width="2"/>
<line x1="389.6" y1="821.7" x2="389.6" y2="839.8" stroke="#3b3be8" stroke-width="2"/>
<line x1="392.9" y1="817.1" x2="392.9" y2="839.8" stroke="#3b3be8" stroke-width="2"/>
<line x1="422.8" y1="817.1" x2="422.8" y2="839.8" stroke="#3b3be8" stroke-width="2"/>
<line x1="448.5" y1="831.2" x2="448.5" y2="839.8" stroke="#3b3be8" stroke-width="2"/>
<line x1="477" y1="826.1" x2="477" y2="839.8" stroke="#3b3be8" stroke-width="2"/>
<line x1="517.8" y1="835.7" x2="517.8" y2="839.8" stroke="#3b3be8" stroke-width="2"/>
<line x1="521.6" y1="831.1" x2="521.6" y2="839.8" stroke="#3b3be8" stroke-width="2"/>
<line x1="532.6" y1="831.1" x2="532.6" y2="839.8" stroke="#3b3be8" stroke-width="2"/>
<line x1="562.3" y1="826.1" x2="562.3" y2="839.8" stroke="#3b3be8" stroke-width="2"/>
<line x1="604.1" y1="831.1" x2="604.1" y2="839.8" stroke="#3b3be8" stroke-width="2"/>
<line x1="640.5" y1="826.2" x2="640.5" y2="839.8" stroke="#3b3be8" stroke-width="2"/>
<line x1="682" y1="836" x2="682" y2="839.8" stroke="#3b3be8" stroke-width="2"/>
<line x1="692.9" y1="836" x2="692.9" y2="839.8" stroke="#3b3be8" stroke-width="2"/>
<line x1="774.2" y1="836" x2="774.2" y2="839.8" stroke="#3b3be8" stroke-width="2"/>
<line x1="65.7" y1="603.8" x2="783.8" y2="603.8" stroke="#5a5a5a" stroke-width="1.5"/>
<polyline points="65.7,603.2 65.7,839.9 783.8,839.9 783.8,603.2" fill="none" stroke="#383838" stroke-width="1.7"/>
<text x="69" y="613.8" font-family="Liberation Sans" font-size="10.5" textLength="269" lengthAdjust="spacingAndGlyphs" fill="#3a3a44" stroke="#3a3a44" stroke-width="0.25">Ref. Pattern: Selenium, syn, 00-006-0362</text>
<text x="329.5" y="871" font-family="Liberation Sans" font-size="11" textLength="113" lengthAdjust="spacingAndGlyphs" fill="#484848" stroke="#484848" stroke-width="0.35">Position [°2Theta]</text>
</svg></body></html>
